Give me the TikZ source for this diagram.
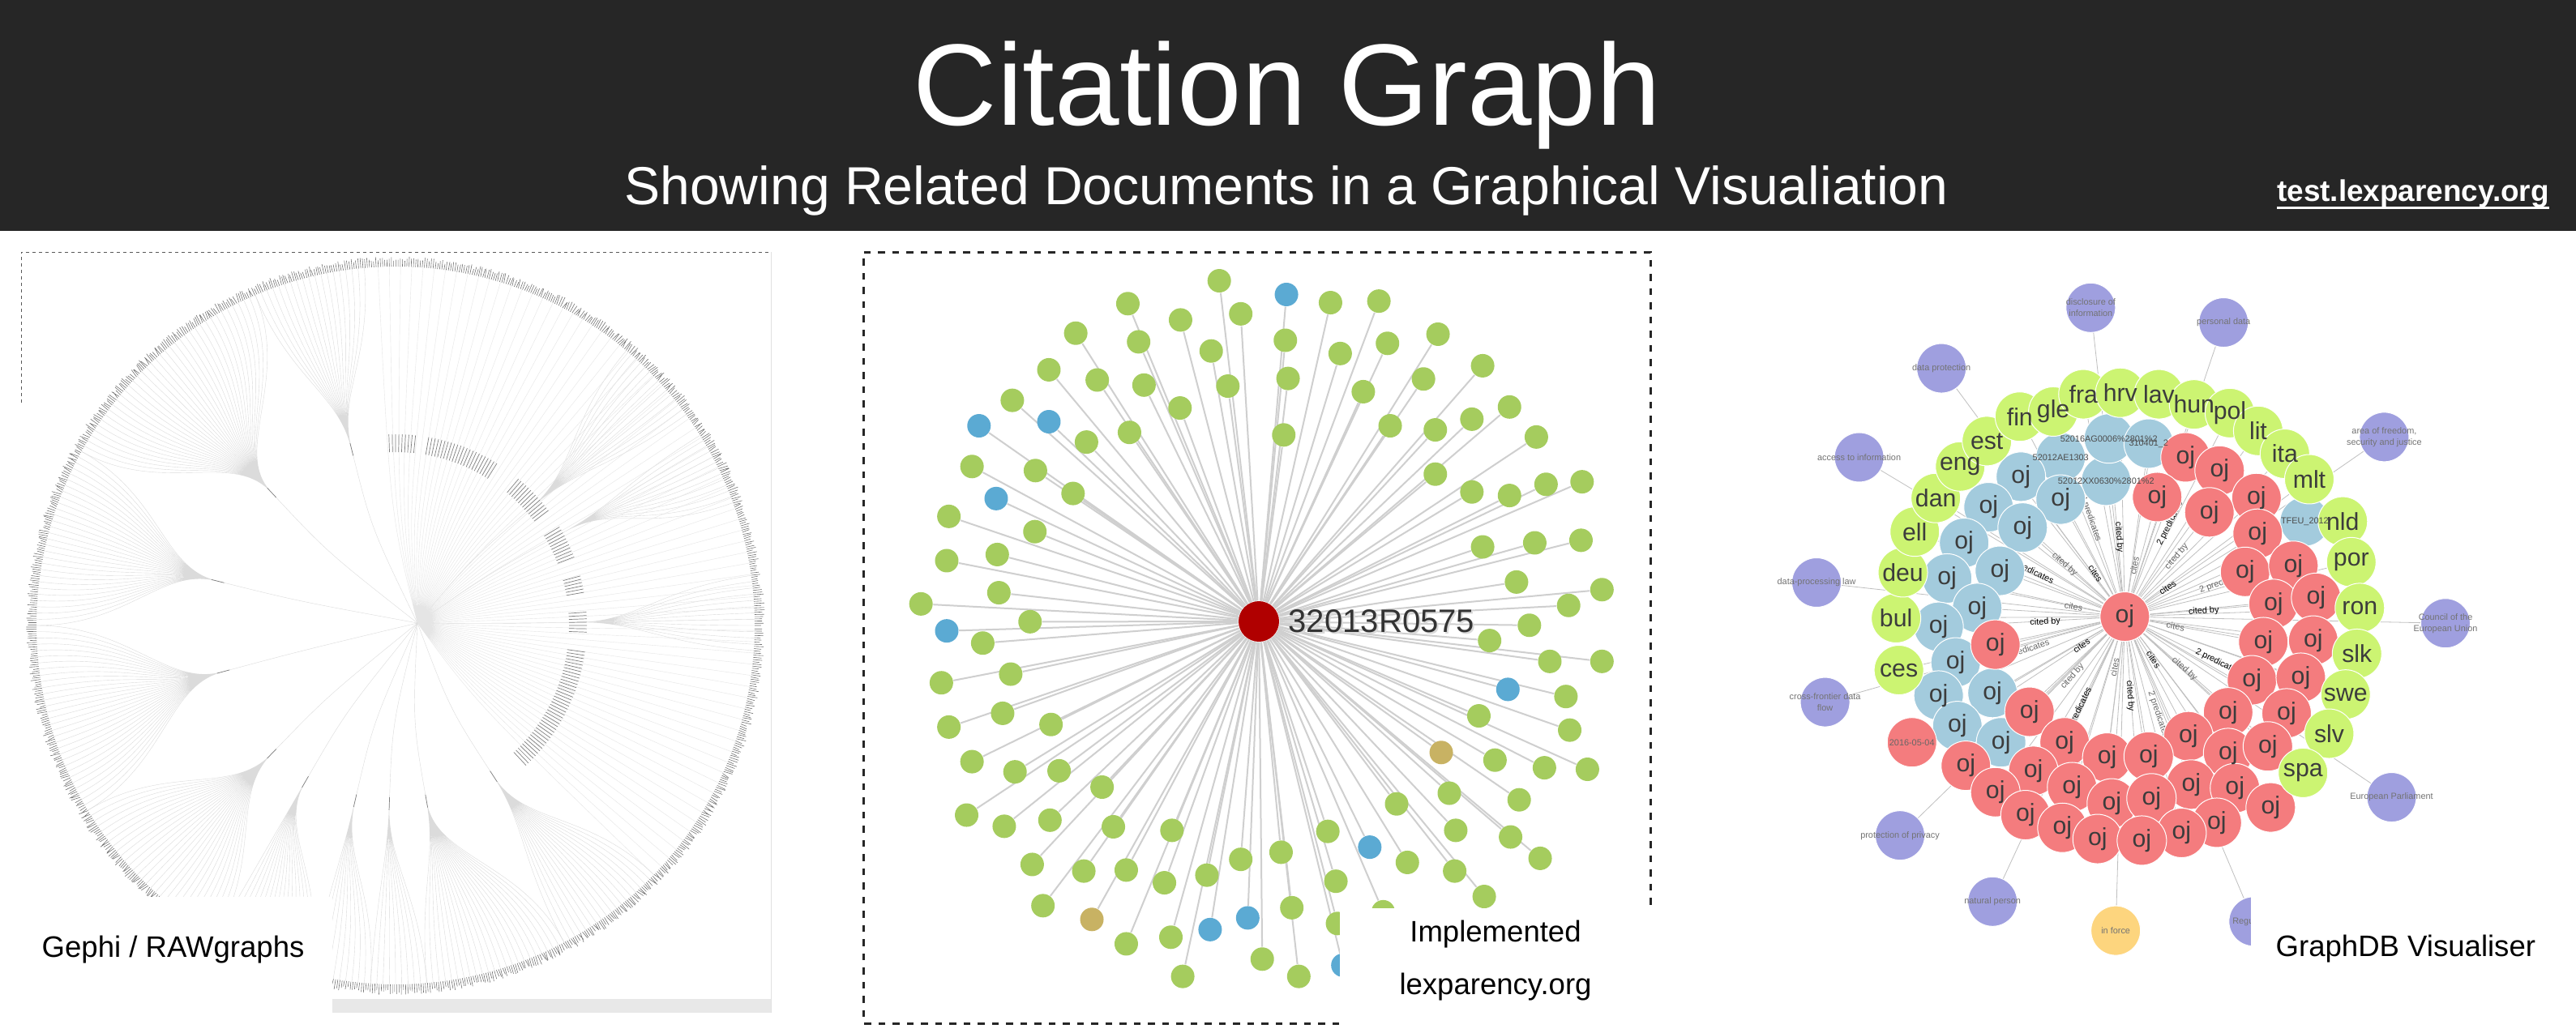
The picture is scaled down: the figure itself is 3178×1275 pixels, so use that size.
\documentclass[tikz,border=0pt]{standalone}
\usepackage{fontspec}
\setmainfont{Liberation Sans}
\pgfdeclarelayer{bg}
\pgfdeclarelayer{edges}
\pgfdeclarelayer{labels}
\pgfsetlayers{bg,edges,main,labels}
\definecolor{hdr}{HTML}{262626}
\definecolor{gtwo}{HTML}{A5CC5E}
\definecolor{btwo}{HTML}{5BAAD3}
\definecolor{ttwo}{HTML}{C8B263}
\definecolor{rtwo}{HTML}{B00000}
\definecolor{etwo}{HTML}{CFCFCF}
\definecolor{gthree}{HTML}{CCF472}
\definecolor{bthree}{HTML}{A3CBDD}
\definecolor{rthree}{HTML}{F47C7E}
\definecolor{pthree}{HTML}{9F9FDF}
\definecolor{ythree}{HTML}{FDD57E}
\definecolor{txtthree}{HTML}{3C3C3C}
\newcommand\myul[1]{\setbox0\hbox{#1}\rlap{\rule[-2.8pt]{\wd0}{0.85pt}}\box0}
\begin{document}
\begin{tikzpicture}[x=0.1mm,y=-0.1mm,
  hdrtext/.style={text=white, inner sep=0},
  lbl/.style={text=black, inner sep=0, font=\fontsize{10.4}{12}\selectfont},
  fanl/.style={draw=black!14, line width=0.04mm},
  strl/.style={draw=black!10, line width=0.04mm},
  otick/.style={draw=black!55, line width=0.06mm},
  itick/.style={draw=black!50, line width=0.07mm},
  gframe/.style={draw=black!65, line width=0.1mm, dash pattern=on 0.45mm off 0.35mm},
  pframe/.style={draw=black!85, line width=0.3mm, dash pattern=on 0.85mm off 0.9mm},
  dottwo/.style={circle, inner sep=0, minimum size=2.9mm},
  etwostyle/.style={draw=etwo, line width=0.2mm},
  nthree/.style={circle, inner sep=0, minimum size=6.1mm, draw=white, line width=0.1mm},
  nlab/.style={inner sep=0, text=txtthree, font=\fontsize{8.6}{10}\selectfont},
  tinythree/.style={inner sep=0, align=center, text=black!55, font=\fontsize{3.1}{4}\selectfont},
  ethree/.style={draw=black!25, line width=0.08mm},
  elab/.style={inner sep=0, font=\fontsize{3.1}{4}\selectfont}
]
\useasboundingbox (0,0) rectangle (3178,1275);
\begin{pgfonlayer}{bg}
\fill[white] (0,0) rectangle (3178,1275);
\end{pgfonlayer}

% ---------------- header ----------------
\fill[hdr] (0,0) rectangle (3178,285);
\node[hdrtext, anchor=base, font=\fontsize{40.7}{48}\selectfont] (title) at (1588,155) {Citation Graph};
\node[hdrtext, anchor=base, font=\fontsize{18.8}{22}\selectfont] (sub) at (1587,252) {Showing Related Documents in a Graphical Visualiation};
\node[hdrtext, anchor=base, font=\fontsize{10.5}{12}\selectfont\bfseries] (url) at (2977,248) {\myul{test.lexparency.org}};

% ---------------- panel 1 : Gephi ----------------
\begin{scope}[shift={(488,772)}, yscale=-1]
  \coordinate (H) at (27,3);
  \pgfmathsetseed{7}
  \foreach \ta/\tr/\aa/\ab in {104/226/95/113, 133/226/113/151, 166/228/151/180, 195/222/180/211, 226/222/211/240, 240/225/240/256, 257/224/256/266, 268/222/266/275, 280/222/275/298, 303/224/298/316, 41/225/36/50, 29/240/20/32, 1/228/-4/8}{
    \pgfmathsetmacro\da{(\ab)-(\aa)}
    \pgfmathtruncatemacro\nn{max(2,round(\da/1.0))}
    \draw[fanl] \foreach \k in {0,...,\nn}{
      (H) .. controls (\ta:{0.55*\tr}) .. (\ta:\tr) .. controls (\ta:{\tr+70}) and ({\aa+\da*\k/\nn}:330) .. ({\aa+\da*\k/\nn}:443)
    };
  }
  \draw[strl] \foreach \a in {-44,-42.2,...,94}{(H) .. controls (\a:140) .. (\a:443)};
  \draw[itick] \foreach \s/\e in {92/84,80/58,50/37,31/21,15/10,4/-2,-8/-47}{ \foreach \a in {\e,...,\s}{(\a:214) -- (\a:236)} };
  \draw[itick] \foreach \ta/\tr in {104/226,133/226,166/228,195/222,226/222,240/225,257/224,268/222,280/222,303/224}{(\ta:{\tr-10}) -- (\ta:{\tr+6})};
  \draw[otick] \foreach \a in {0,0.35,...,359.7}{(\a:443) -- (\a:{450+6*rnd})};
\end{scope}
\draw[gframe] (26,497) -- (26,311) -- (951,311);
\draw[draw=black!12, line width=0.1mm] (951,311) -- (951,1250);
\fill[black!9] (410,1233) rectangle (951,1250);
\fill[white] (0,1107) rectangle (410,1275);
\node[lbl, anchor=base west] (labone) at (51,1181) {Gephi / RAWgraphs};

% ---------------- panel 2 : lexparency ----------------
\node[circle, fill=rtwo, inner sep=0, minimum size=5mm] (c2) at (1553,767) {};
\begin{scope}[shift={(1040,290)}, xscale=0.6631, yscale=0.6281]
\foreach \x/\y/\c [count=\i] in {700/90/gtwo, 825/117/btwo, 907/133/gtwo, 997/130/gtwo, 530/135/gtwo, 628/167/gtwo, 740/155/gtwo, 433/193/gtwo, 550/210/gtwo, 685/228/gtwo, 823/207/gtwo, 925/233/gtwo, 1013/213/gtwo, 1107/195/gtwo, 383/265/gtwo, 473/285/gtwo, 560/295/gtwo, 716/297/gtwo, 828/282/gtwo, 968/308/gtwo, 1080/283/gtwo, 1190/257/gtwo, 315/325/gtwo, 253/375/btwo, 383/367/btwo, 453/407/gtwo, 533/388/gtwo, 627/340/gtwo, 820/393/gtwo, 1018/375/gtwo, 1102/383/gtwo, 1170/362/gtwo, 1240/338/gtwo, 1290/397/gtwo, 240/455/gtwo, 358/463/gtwo, 428/508/gtwo, 285/518/btwo, 1102/470/gtwo, 1170/505/gtwo, 1240/512/gtwo, 1308/490/gtwo, 1375/485/gtwo, 197/553/gtwo, 357/583/gtwo, 287/628/gtwo, 193/640/gtwo, 1190/613/gtwo, 1287/605/gtwo, 1373/600/gtwo, 290/703/gtwo, 1253/682/gtwo, 145/725/gtwo, 1350/728/gtwo, 1412/697/gtwo, 193/778/btwo, 348/760/gtwo, 260/802/gtwo, 1277/767/gtwo, 1203/797/gtwo, 183/880/gtwo, 312/863/gtwo, 1315/838/gtwo, 1412/838/gtwo, 1237/893/btwo, 1345/907/gtwo, 297/940/gtwo, 197/967/gtwo, 387/962/gtwo, 1183/945/gtwo, 1352/973/gtwo, 240/1035/gtwo, 320/1055/gtwo, 402/1053/gtwo, 1113/1017/ttwo, 1213/1032/gtwo, 1305/1047/gtwo, 1385/1050/gtwo, 482/1085/gtwo, 1128/1097/gtwo, 1030/1118/gtwo, 1258/1110/gtwo, 230/1140/gtwo, 300/1162/gtwo, 385/1150/gtwo, 503/1163/gtwo, 612/1170/gtwo, 902/1172/gtwo, 1140/1170/gtwo, 1242/1183/gtwo, 980/1203/btwo, 352/1237/gtwo, 448/1250/gtwo, 527/1248/gtwo, 740/1227/gtwo, 815/1213/gtwo, 1050/1233/gtwo, 1138/1250/gtwo, 1297/1225/gtwo, 598/1273/gtwo, 677/1258/gtwo, 917/1270/gtwo, 1193/1300/gtwo, 372/1318/gtwo, 463/1345/ttwo, 835/1322/gtwo, 753/1342/btwo, 683/1365/btwo, 610/1380/gtwo, 527/1393/gtwo, 920/1353/gtwo, 780/1423/gtwo, 848/1457/gtwo, 632/1457/gtwo, 930/1435/btwo, 1005/1330/gtwo}{
  \node[dottwo, fill=\c] (p\i) at (\x,\y) {};
  \begin{pgfonlayer}{edges}\draw[etwostyle] (c2) -- (p\i);\end{pgfonlayer}
}
\end{scope}
\node[anchor=base west, inner sep=0, font=\fontsize{11.4}{13}\selectfont, text=black!15] (c2s) at (1591,782) {32013R0575};
\node[anchor=base west, inner sep=0, font=\fontsize{11.4}{13}\selectfont, text=black!80] (c2l) at (1589,780) {32013R0575};
\draw[pframe] (1652,1263) -- (1065,1263) -- (1065,311) -- (2036,311) -- (2036,1120);
\fill[white] (1653,1121) rectangle (2050,1275);
\node[lbl, anchor=base] (labtwoa) at (1845,1162) {Implemented};
\node[lbl, anchor=base] (labtwob) at (1845,1227) {lexparency.org};

% ---------------- panel 3 : GraphDB ----------------
\begin{scope}[shift={(2080,290)}, xscale=0.7003, yscale=0.6281]
\node[nthree, fill=rthree] (c3) at (773,750) {};
\begin{pgfonlayer}{labels}\node[nlab] (c3t) at (c3) {oj};\end{pgfonlayer}
\foreach \x/\y/\t [count=\i] in {713/143/{disclosure of\\information}, 947/172/{personal data}, 450/262/{data protection}, 305/437/{access to information}, 1230/397/{area of freedom,\\security and justice}, 230/683/{data-processing law}, 1338/763/{Council of the\\European Union}, 245/918/{cross-frontier data\\flow}, 1243/1105/{European Parliament}, 377/1180/{protection of privacy}, 540/1310/{natural person}, 1000/1349/{Regulation}}{
  \node[nthree, fill=pthree] (u\i) at (\x,\y) {};
  \begin{pgfonlayer}{labels}\node[tinythree] (ut\i) at (u\i) {\t};\end{pgfonlayer}
  \begin{pgfonlayer}{edges}\draw[ethree] (c3) -- (u\i);\end{pgfonlayer}
}
\node[nthree, fill=ythree] (yf) at (757,1367) {};
\begin{pgfonlayer}{labels}\node[tinythree] (yft) at (yf) {in force};\end{pgfonlayer}
\begin{pgfonlayer}{edges}\draw[ethree] (c3) -- (yf);\end{pgfonlayer}
\end{scope}

% edge labels around the centre
\begin{scope}[shift={(2621,761)}, yscale=-1]
\foreach \a [count=\j] in {4,19,...,349}{
  \pgfmathtruncatemacro\m{mod(\j,3)}
  \pgfmathsetmacro\rr{{64,98,128}[\m]}
  \pgfmathsetmacro\rot{(\a>90 && \a<270) ? \a+180 : \a}
  \ifodd\j\def\ec{black}\else\def\ec{black!60}\fi
  \node[elab, text=\ec, rotate=\rot] (el\j) at (\a:\rr) {\ifcase\m cites\or cited by\or 2 predicates\fi};
}
\end{scope}

\begin{scope}[shift={(2080,290)}, xscale=0.7003, yscale=0.6281]
\foreach \x/\y/\t [count=\i] in {660/437/52012AE1303, 740/483/{52012XX0630\%2801\%2}, 745/400/{52016AG0006\%2801\%2}, 815/410/{310401\_2}, 1090/563/{TFEU\_2012}}{
  \node[nthree, fill=bthree] (w\i) at (\x,\y) {};
  \begin{pgfonlayer}{labels}\node[tinythree, text=black!70] (wt\i) at (w\i) {\t};\end{pgfonlayer}
  \begin{pgfonlayer}{edges}\draw[ethree] (c3) -- (w\i);\end{pgfonlayer}
}
\foreach \x/\y [count=\i] in {590/475, 660/520, 533/535, 593/575, 490/605, 553/660, 460/675, 513/733, 445/770, 475/840, 540/900, 445/905, 478/965, 555/997}{
  \node[nthree, fill=bthree] (b\i) at (\x,\y) {};
  \begin{pgfonlayer}{labels}\node[nlab] (bt\i) at (b\i) {oj};\end{pgfonlayer}
  \begin{pgfonlayer}{edges}\draw[ethree] (c3) -- (b\i);\end{pgfonlayer}
}
\foreach \x/\y [count=\i] in {880/437, 940/463, 830/515, 1005/517, 922/545, 1007/587, 985/662, 1070/650, 1035/725, 1110/713, 1017/800, 1105/797, 997/875, 1083/870, 545/805, 605/937, 955/938, 1058/940, 885/985, 667/997, 955/1018, 1025/1005, 742/1027, 815/1025, 493/1043, 612/1053, 890/1080, 967/1087, 680/1085, 545/1095, 750/1117, 820/1107, 1030/1125, 598/1140, 663/1165, 935/1155, 873/1175, 725/1187, 803/1190}{
  \node[nthree, fill=rthree] (r\i) at (\x,\y) {};
  \begin{pgfonlayer}{labels}\node[nlab] (rt\i) at (r\i) {oj};\end{pgfonlayer}
  \begin{pgfonlayer}{edges}\draw[ethree] (c3) -- (r\i);\end{pgfonlayer}
}
\node[nthree, fill=rthree] (dt) at (398,997) {};
\begin{pgfonlayer}{labels}\node[tinythree, text=black!60] (dtt) at (dt) {2016-05-04};\end{pgfonlayer}
\begin{pgfonlayer}{edges}\draw[ethree] (c3) -- (dt);\end{pgfonlayer}
\foreach \x/\y/\t [count=\i] in {375/855/ces, 370/753/bul, 382/663/deu, 403/583/ell, 440/517/dan, 483/455/eng, 530/405/est, 588/357/fin, 647/347/gle, 700/313/fra, 765/310/hrv, 833/313/lav, 895/333/hun, 958/350/pol, 1008/385/lit, 1055/430/ita, 1098/480/mlt, 1157/563/nld, 1172/643/por, 1187/733/ron, 1182/823/slk, 1162/903/swe, 1133/980/slv, 1087/1057/spa}{
  \node[nthree, fill=gthree] (g\i) at (\x,\y) {};
  \begin{pgfonlayer}{labels}\node[nlab] (gt\i) at (g\i) {\t};\end{pgfonlayer}
  \begin{pgfonlayer}{edges}\draw[ethree] (c3) -- (g\i);\end{pgfonlayer}
}
\end{scope}
\begin{pgfonlayer}{labels}
\fill[white] (2777,1095) rectangle (3178,1275);
\node[lbl, anchor=base west] (labthree) at (2807,1180) {GraphDB Visualiser};
\end{pgfonlayer}
\end{tikzpicture}
\end{document}
